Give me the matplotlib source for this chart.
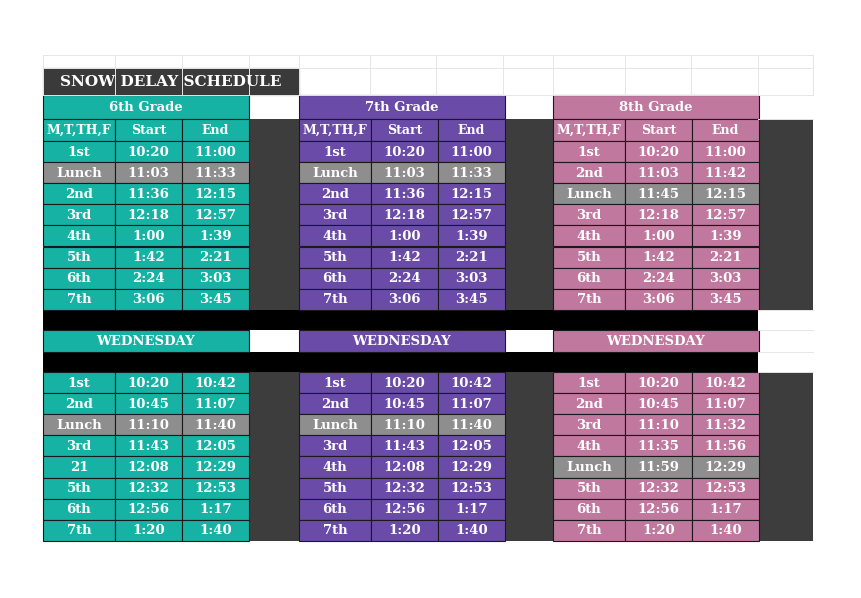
import matplotlib
matplotlib.use("Agg")
import matplotlib.pyplot as plt
from matplotlib.patches import Rectangle

grades = ["6th Grade", "7th Grade", "8th Grade"]
colors = ["#16b3a4", "#6a4ba7", "#c0789f"]
header = ["M,T,TH,F", "Start", "End"]

reg_6 = [["1st","10:20","11:00"],["Lunch","11:03","11:33"],["2nd","11:36","12:15"],["3rd","12:18","12:57"],
         ["4th","1:00","1:39"],["5th","1:42","2:21"],["6th","2:24","3:03"],["7th","3:06","3:45"]]
reg_7 = reg_6
reg_8 = [["1st","10:20","11:00"],["2nd","11:03","11:42"],["Lunch","11:45","12:15"],["3rd","12:18","12:57"],
         ["4th","1:00","1:39"],["5th","1:42","2:21"],["6th","2:24","3:03"],["7th","3:06","3:45"]]
wed_6 = [["1st","10:20","10:42"],["2nd","10:45","11:07"],["Lunch","11:10","11:40"],["3rd","11:43","12:05"],
         ["21","12:08","12:29"],["5th","12:32","12:53"],["6th","12:56","1:17"],["7th","1:20","1:40"]]
wed_7 = [["1st","10:20","10:42"],["2nd","10:45","11:07"],["Lunch","11:10","11:40"],["3rd","11:43","12:05"],
         ["4th","12:08","12:29"],["5th","12:32","12:53"],["6th","12:56","1:17"],["7th","1:20","1:40"]]
wed_8 = [["1st","10:20","10:42"],["2nd","10:45","11:07"],["3rd","11:10","11:32"],["4th","11:35","11:56"],
         ["Lunch","11:59","12:29"],["5th","12:32","12:53"],["6th","12:56","1:17"],["7th","1:20","1:40"]]
regular = [reg_6, reg_7, reg_8]
wednesday = [wed_6, wed_7, wed_8]

fig = plt.figure(figsize=(8.62, 5.98), dpi=100)
ax = fig.add_axes([0, 0, 1, 1])
ax.set_xlim(0, 862); ax.set_ylim(598, 0); ax.axis("off")

FONT = dict(family="DejaVu Serif", fontweight="bold", color="white", ha="center", va="center")
DARK = "#3d3d3d"; LUNCH = "#8e8e8e"

def cell(x0, x1, y0, y1, fc, text=None, size=9.5, edge="#1a1a1a", lw=0.8):
    ax.add_patch(Rectangle((x0, y0), x1 - x0, y1 - y0, fc=fc, ec=edge, lw=lw))
    if text:
        ax.text((x0 + x1) / 2, (y0 + y1) / 2 + 0.5, text, fontsize=size, **FONT)

# faint spreadsheet grid
xs = [43, 115, 182, 249, 299, 370, 436, 503, 553, 625, 691, 758, 813]
for x in xs:
    ax.plot([x, x], [55, 95], color="#e6e6e6", lw=0.7)
for y in [55, 68, 95]:
    ax.plot([43, 813], [y, y], color="#e6e6e6", lw=0.7)
for y in [95, 119, 310, 330, 352, 372]:
    ax.plot([758, 813], [y, y], color="#e6e6e6", lw=0.7)

cell(43, 299, 68, 95, "#3a3a3a", "SNOW DELAY SCHEDULE", size=11, edge="#3a3a3a")

rows_top = [141 + i * 21.1 for i in range(9)]
rows_bot = [372 + i * 21.1 for i in range(9)]
starts = [43, 299, 553]

# dark filler columns
for gx in [249, 503, 758]:
    ax.add_patch(Rectangle((gx, 119), 50 if gx != 758 else 55, 310 - 119, fc=DARK, ec="none"))
    ax.add_patch(Rectangle((gx, 372), 50 if gx != 758 else 55, rows_bot[-1] - 372, fc=DARK, ec="none"))

# black bands
ax.add_patch(Rectangle((43, 310), 758 - 43, 20, fc="black", ec="none"))
ax.add_patch(Rectangle((43, 352), 758 - 43, 20, fc="black", ec="none"))

for g, x0 in enumerate(starts):
    cx = [x0, x0 + 72, x0 + 139, x0 + 206]
    c = colors[g]
    cell(cx[0], cx[3], 95, 119, c, grades[g], size=9.5)
    for j in range(3):
        cell(cx[j], cx[j + 1], 119, 141, c, header[j], size=9)
    for i, row in enumerate(regular[g]):
        fc = LUNCH if row[0] == "Lunch" else c
        for j in range(3):
            cell(cx[j], cx[j + 1], rows_top[i], rows_top[i + 1], fc, row[j])
    cell(cx[0], cx[3], 330, 352, c, "WEDNESDAY", size=9.5)
    for i, row in enumerate(wednesday[g]):
        fc = LUNCH if row[0] == "Lunch" else c
        for j in range(3):
            cell(cx[j], cx[j + 1], rows_bot[i], rows_bot[i + 1], fc, row[j])

fig.savefig("out.png", dpi=100, facecolor="white")
